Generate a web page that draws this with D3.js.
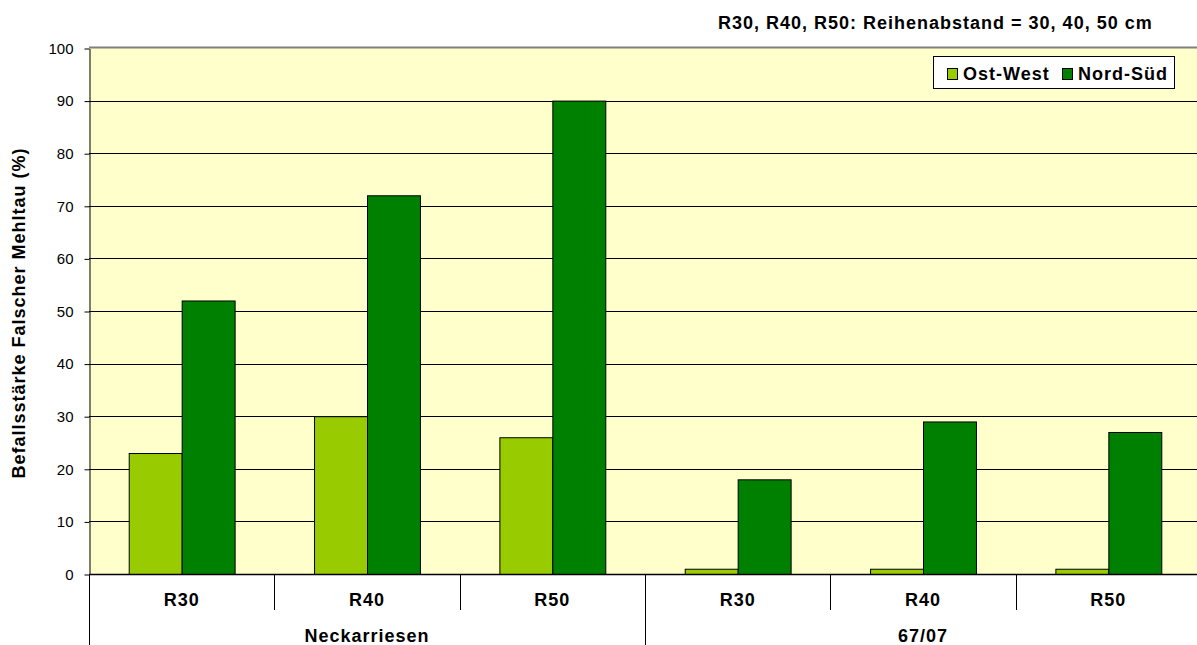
<!DOCTYPE html>
<html>
<head>
<meta charset="utf-8">
<script src="https://cdn.jsdelivr.net/npm/d3@7"></script>
<style>
  body { margin: 0; background: #fff; }
  svg { display: block; font-family: Arial, "Liberation Sans", sans-serif; }
  .lbl { font-size: 18px; font-weight: bold; letter-spacing: 1px; fill: #000; }
</style>
</head>
<body>
<svg id="chart" width="1197" height="645"></svg>
<script>
// Befallsstärke je Sorte und Reihenabstand
const groups = ["Neckarriesen", "67/07"];
const rows = ["R30", "R40", "R50"];
const seriesNames = ["Ost-West", "Nord-Süd"];
const ostWest = [23, 30, 26, 1, 1, 1];
const nordSued = [52, 72, 90, 18, 29, 27];
const yTicks = [0, 10, 20, 30, 40, 50, 60, 70, 80, 90, 100];
const colors = ["#99CC00", "#008000"];

const svg = d3.select("#chart");
const plotLeft = 89, plotRight = 1201, plotTop = 48, plotBottom = 574;

const cats = [];
groups.forEach(g => rows.forEach(r => cats.push({ group: g, row: r, key: g + "|" + r })));

const x = d3.scaleBand().domain(cats.map(c => c.key)).range([plotLeft, plotRight]).paddingInner(0).paddingOuter(0);
const xSub = d3.scaleBand().domain(seriesNames).range([0, x.bandwidth()]).paddingInner(0).paddingOuter(0.75);
const y = d3.scaleLinear().domain([0, 100]).range([plotBottom, plotTop]);

// plot background
svg.append("rect").attr("x", plotLeft).attr("y", plotTop).attr("width", plotRight - plotLeft).attr("height", plotBottom - plotTop)
  .attr("fill", "#FFFFCC");

// gridlines
svg.append("g").selectAll("line").data(yTicks.filter(t => t > 0 && t < 100)).join("line")
  .attr("x1", plotLeft).attr("x2", plotRight).attr("y1", d => Math.round(y(d)) + 0.5).attr("y2", d => Math.round(y(d)) + 0.5)
  .attr("stroke", "#000").attr("stroke-width", 1);
svg.append("line").attr("x1", plotLeft).attr("x2", plotRight).attr("y1", plotTop - 0.5).attr("y2", plotTop - 0.5)
  .attr("stroke", "#808080").attr("stroke-width", 2);

// bars
const data = cats.map((c, i) => ({ ...c, values: [ostWest[i], nordSued[i]] }));
const cg = svg.append("g").selectAll("g").data(data).join("g")
  .attr("transform", d => `translate(${x(d.key)},0)`);
cg.selectAll("rect").data(d => d.values.map((v, j) => ({ v, s: seriesNames[j], j }))).join("rect")
  .attr("x", d => xSub(d.s) + 0.5).attr("width", xSub.bandwidth())
  .attr("y", d => y(d.v) + 0.5).attr("height", d => y(0) - y(d.v))
  .attr("fill", d => colors[d.j]).attr("stroke", "#000").attr("stroke-width", 1);

// y axis
const yAxis = d3.axisLeft(y).tickValues(yTicks).tickSize(5).tickPadding(11).tickSizeOuter(0);
const ya = svg.append("g").attr("transform", `translate(${plotLeft + 0.5},0.5)`).call(yAxis);
ya.select(".domain").attr("stroke", "#000");
ya.selectAll(".tick line").attr("stroke", "#000");
ya.selectAll("text").attr("font-size", 15).attr("fill", "#000").attr("font-family", "Arial, 'Liberation Sans', sans-serif");

// x axis baseline
svg.append("line").attr("x1", plotLeft).attr("x2", plotRight).attr("y1", plotBottom + 0.5).attr("y2", plotBottom + 0.5)
  .attr("stroke", "#000").attr("stroke-width", 1.5);

// category separators
const bounds = cats.map(c => x(c.key));
svg.append("g").selectAll("line").data(bounds).join("line")
  .attr("x1", d => Math.round(d) + 0.5).attr("x2", d => Math.round(d) + 0.5)
  .attr("y1", plotBottom).attr("y2", (d, i) => i % rows.length === 0 ? 645 : 610)
  .attr("stroke", "#000").attr("stroke-width", 1);

// category labels
svg.append("g").selectAll("text").data(cats).join("text").attr("class", "lbl")
  .attr("x", d => x(d.key) + x.bandwidth() / 2).attr("y", 606)
  .attr("text-anchor", "middle").text(d => d.row);

// group labels
svg.append("g").selectAll("text").data(groups).join("text").attr("class", "lbl")
  .attr("x", g => x(g + "|" + rows[0]) + x.bandwidth() * rows.length / 2).attr("y", 642)
  .attr("text-anchor", "middle").text(d => d);

// y axis title
svg.append("text").attr("class", "lbl").attr("transform", `translate(25,313) rotate(-90)`)
  .attr("text-anchor", "middle")
  .text("Befallsstärke Falscher Mehltau (%)");

// note
svg.append("text").attr("class", "lbl").attr("x", 718).attr("y", 29)
  .text("R30, R40, R50: Reihenabstand = 30, 40, 50 cm");

// legend
const lg = svg.append("g");
lg.append("rect").attr("x", 933.5).attr("y", 56.5).attr("width", 241).attr("height", 32)
  .attr("fill", "#fff").attr("stroke", "#000").attr("stroke-width", 1);
const legendX = [947, 1062];
seriesNames.forEach((s, i) => {
  lg.append("rect").attr("x", legendX[i] + 0.5).attr("y", 68.5).attr("width", 10).attr("height", 11)
    .attr("fill", colors[i]).attr("stroke", "#000");
  lg.append("text").attr("class", "lbl").attr("x", legendX[i] + 16).attr("y", 80).text(s);
});
</script>
</body>
</html>
